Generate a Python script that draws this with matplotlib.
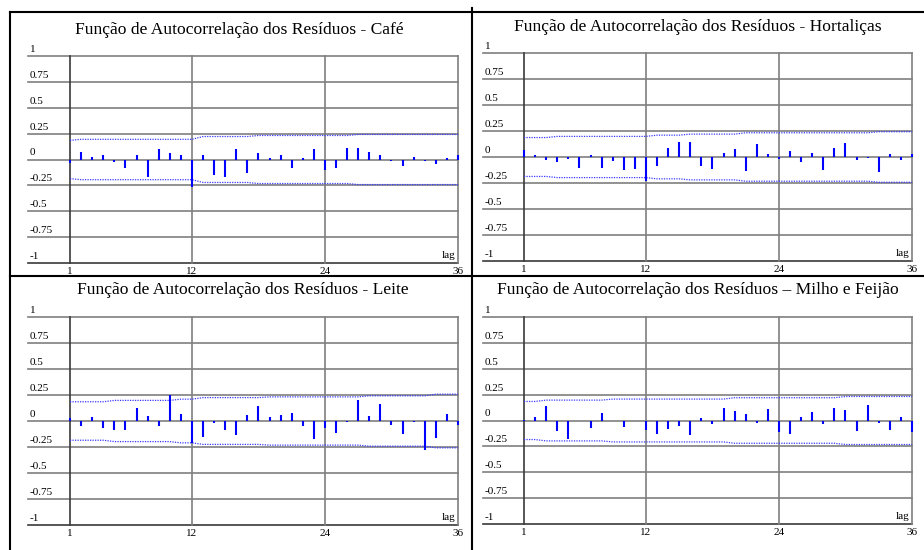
import matplotlib
matplotlib.use("Agg")
import matplotlib.pyplot as plt
from matplotlib.lines import Line2D

plt.rcParams['font.family'] = ['Liberation Serif', 'DejaVu Serif']

lags = list(range(1, 37))

titles = [
    "Função de Autocorrelação dos Resíduos - Café",
    "Função de Autocorrelação dos Resíduos - Hortaliças",
    "Função de Autocorrelação dos Resíduos - Leite",
    "Função de Autocorrelação dos Resíduos \u2013 Milho e Feijão",
]

acf_cafe = [-0.03, 0.074, 0.02, 0.04, -0.02, -0.08, 0.04, -0.17, 0.097, 0.064, 0.04, -0.27,
            0.04, -0.145, -0.167, 0.106, -0.13, 0.06, 0.016, 0.04, -0.08, 0.016, 0.097, -0.097,
            -0.08, 0.113, 0.113, 0.074, 0.04, -0.016, -0.064, 0.026, -0.016, -0.042, 0.01, 0.045]
acf_hort = [0.068, 0.016, -0.03, -0.048, -0.016, -0.11, 0.016, -0.103, -0.039, -0.126, -0.113, -0.232,
            -0.09, 0.09, 0.148, 0.148, -0.09, -0.113, 0.035, 0.074, -0.135, 0.123, 0.026, -0.023,
            0.061, -0.048, 0.035, -0.126, 0.09, 0.139, -0.026, -0.01, -0.145, 0.026, -0.032, 0.029]
acf_leite = [0.03, -0.049, 0.036, -0.071, -0.084, -0.09, 0.127, 0.052, -0.045, 0.25, 0.065, -0.21,
             -0.156, -0.023, -0.084, -0.133, 0.062, 0.143, 0.036, 0.062, 0.075, -0.045, -0.172, -0.068,
             -0.117, -0.013, 0.2, 0.052, 0.159, -0.036, -0.123, -0.013, -0.276, -0.159, 0.071, -0.036]
acf_milho = [0.006, 0.032, 0.14, -0.104, -0.182, -0.005, -0.071, 0.071, -0.003, -0.062, -0.005, -0.088,
             -0.13, -0.081, -0.049, -0.136, 0.023, -0.032, 0.123, 0.094, 0.062, -0.023, 0.114, -0.114,
             -0.127, 0.032, 0.081, -0.036, 0.123, 0.104, -0.104, 0.149, -0.026, -0.091, 0.032, -0.11]

band_cafe = [0.185, 0.195, 0.195, 0.195, 0.195, 0.195, 0.195, 0.195, 0.195, 0.195, 0.195, 0.195,
             0.222, 0.222, 0.222, 0.222, 0.222, 0.232, 0.232, 0.232, 0.232, 0.232, 0.232, 0.232,
             0.232, 0.232, 0.242, 0.242, 0.242, 0.242, 0.242, 0.242, 0.242, 0.242, 0.242, 0.242]
band_hort = [0.187, 0.187, 0.187, 0.198, 0.198, 0.198, 0.198, 0.198, 0.198, 0.198, 0.198, 0.198,
             0.21, 0.21, 0.21, 0.22, 0.22, 0.22, 0.22, 0.22, 0.233, 0.233, 0.233, 0.233,
             0.233, 0.233, 0.233, 0.233, 0.233, 0.233, 0.233, 0.233, 0.243, 0.243, 0.243, 0.243]
band_leite = [0.185, 0.185, 0.185, 0.185, 0.198, 0.198, 0.198, 0.198, 0.198, 0.198, 0.21, 0.21,
              0.225, 0.225, 0.225, 0.225, 0.225, 0.225, 0.232, 0.232, 0.232, 0.232, 0.232, 0.232,
              0.232, 0.232, 0.232, 0.242, 0.242, 0.242, 0.242, 0.242, 0.242, 0.258, 0.258, 0.258]
band_milho = [0.184, 0.184, 0.197, 0.197, 0.197, 0.197, 0.197, 0.197, 0.207, 0.207, 0.207, 0.207,
              0.207, 0.207, 0.207, 0.207, 0.207, 0.207, 0.207, 0.22, 0.22, 0.22, 0.22, 0.22,
              0.22, 0.22, 0.22, 0.22, 0.22, 0.232, 0.232, 0.232, 0.232, 0.232, 0.232, 0.232]

series = [acf_cafe, acf_hort, acf_leite, acf_milho]
bands = [band_cafe, band_hort, band_leite, band_milho]

y_ticks = [-1, -0.75, -0.5, -0.25, 0, 0.25, 0.5, 0.75, 1]
y_tick_labels = ["-1", "-0.75", "-0.5", "-0.25", "0", "0.25", "0.5", "0.75", "1"]
x_ticks = [1, 12, 24, 36]
x_tick_labels = ["1", "12", "24", "36"]

W, H = 924, 550
fig = plt.figure(figsize=(W / 100, H / 100), dpi=100)

# axes rectangles in pixels: (left, top, right, bottom)
rects = [(70, 56, 458, 263), (524, 53, 912, 261), (70, 317, 458, 525), (524, 317, 912, 524)]
title_pos = [(239, 30), (698, 27), (243, 290), (698, 290)]
label_left = [30, 485, 30, 485]

GRID = '#7f7f7f'
DARK = '#3a3a3a'
BLUE = '#0000ff'

for i in range(4):
    l, t, r, b = rects[i]
    ax = fig.add_axes([l / W, 1 - b / H, (r - l) / W, (b - t) / H])
    ax.set_xlim(1, 36)
    ax.set_ylim(-1, 1)
    ax.axis('off')
    ext = (label_left[i] - 2 - l) / (r - l)
    ytr = ax.get_yaxis_transform()
    for yv in y_ticks:
        col = DARK if yv == -1 else GRID
        ax.plot([ext, 1], [yv, yv], transform=ytr, color=col, lw=1.2, clip_on=False, zorder=1)
    for xv in x_ticks:
        col = DARK if xv == 1 else GRID
        ax.plot([xv, xv], [-1, 1], color=col, lw=1.2, clip_on=False, zorder=1)
    band = bands[i]
    ax.plot(lags, band, color='#3a3aff', lw=0.9, ls=(0, (1, 1)), clip_on=False, zorder=2)
    ax.plot(lags, [-v for v in band], color='#3a3aff', lw=0.9, ls=(0, (1, 1)), clip_on=False, zorder=2)
    ax.vlines(lags, 0, series[i], color=BLUE, lw=1.5, clip_on=False, zorder=3)
    xlab = (label_left[i] - l) / (r - l)
    for yv, s in zip(y_ticks, y_tick_labels):
        ax.annotate(s, xy=(xlab, yv), xycoords=ytr, xytext=(0, 1.5), textcoords='offset points',
                    ha='left', va='bottom', fontsize=8, color='black')
    xtr = ax.get_xaxis_transform()
    for xv, s in zip(x_ticks, x_tick_labels):
        ax.annotate(s, xy=(xv, 0), xycoords=xtr, xytext=(0, -3), textcoords='offset points',
                    ha='center', va='top', fontsize=8, color='black')
    ax.annotate("lag", xy=(1, 0), xycoords='axes fraction', xytext=(-2, 2), textcoords='offset points',
                ha='right', va='bottom', fontsize=8, color='black')
    tx, ty = title_pos[i]
    fig.text(tx / W, 1 - ty / H, titles[i], ha='center', va='center', fontsize=12.6, color='black')

def fline(x0, y0, x1, y1):
    fig.add_artist(Line2D([x0 / W, x1 / W], [1 - y0 / H, 1 - y1 / H], transform=fig.transFigure,
                          color='black', lw=1.5))

fline(10, 12, 924, 12)
fline(10, 12, 10, 550)
fline(472, 8, 472, 550)
fline(10, 276, 924, 276)

fig.savefig("out.png", dpi=100)
